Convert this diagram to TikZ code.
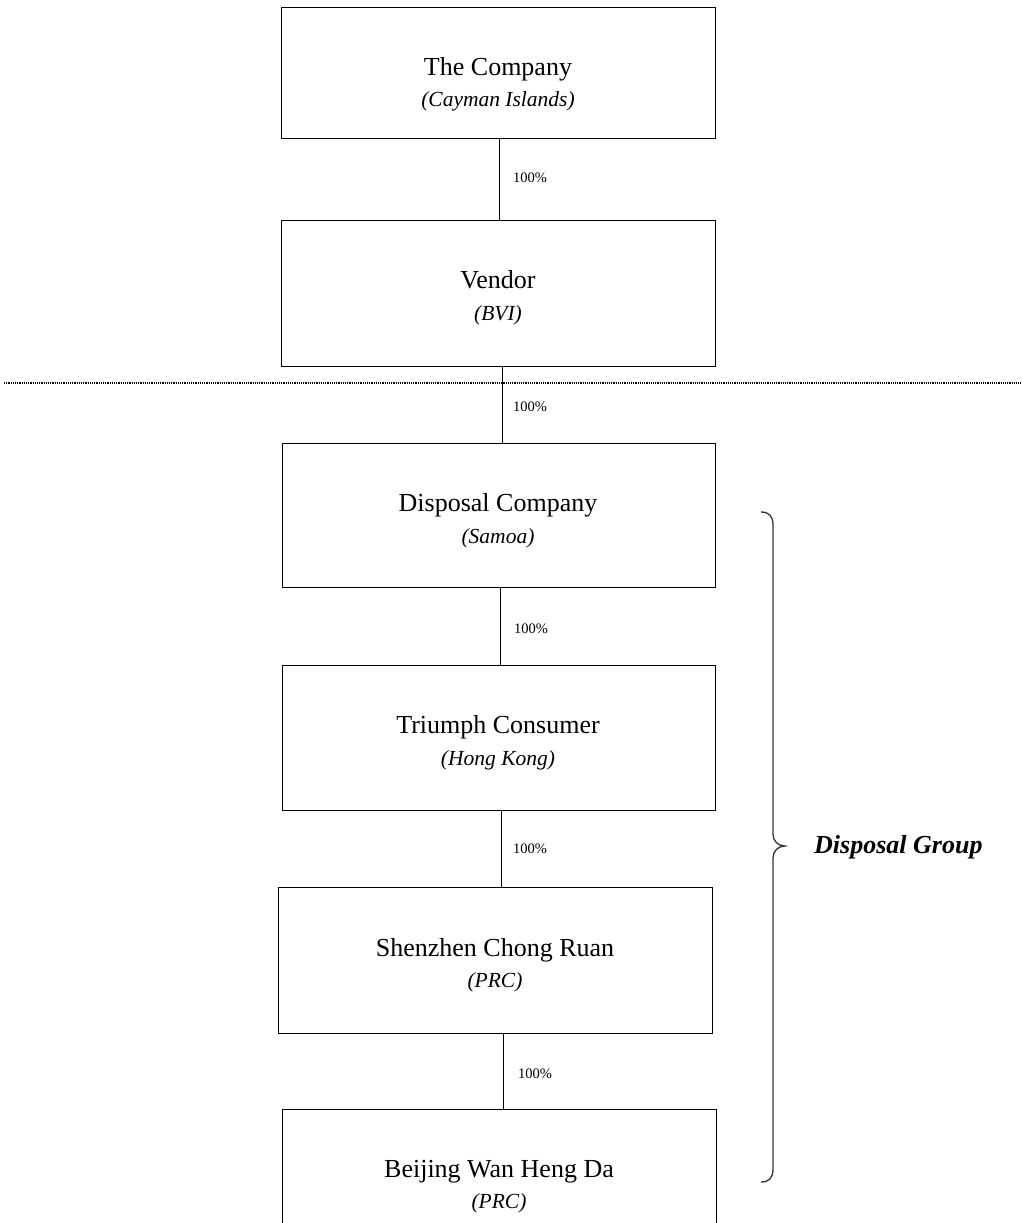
\documentclass[tikz,border=0pt]{standalone}
\usepackage{fontspec}
\setmainfont{Liberation Serif}
\begin{document}
\begin{tikzpicture}[x=1pt,y=-1pt,
  box/.style={draw=black,line width=1.3pt,rectangle,inner sep=0pt,anchor=north west},
  ttl/.style={anchor=base,inner sep=0pt,font=\fontsize{26}{30}\selectfont},
  sub/.style={anchor=base,inner sep=0pt,font=\fontsize{21.5}{26}\selectfont\itshape},
  pct/.style={anchor=base west,inner sep=0pt,font=\fontsize{14.5}{17}\selectfont},
  link/.style={draw=black,line width=1.3pt},
  grp/.style={anchor=base west,inner sep=0pt,font=\fontsize{26}{30}\selectfont\bfseries\itshape}]
\useasboundingbox (0,0) rectangle (1021,1223);
\clip (0,0) rectangle (1021,1223);
% boxes
\node[box,minimum width=434pt,minimum height=131pt] (b1) at (281,7) {};
\node[box,minimum width=434pt,minimum height=146pt] (b2) at (281,220) {};
\node[box,minimum width=433pt,minimum height=144pt] (b3) at (282,443) {};
\node[box,minimum width=433pt,minimum height=145pt] (b4) at (282,665) {};
\node[box,minimum width=434pt,minimum height=146pt] (b5) at (278,887) {};
\node[box,minimum width=434pt,minimum height=150pt] (b6) at (282,1109) {};
% texts
\node[ttl] (t1) at (498,75) {The Company};
\node[sub] (s1) at (498,106) {(Cayman Islands)};
\node[ttl] (t2) at (498,288) {Vendor};
\node[sub] (s2) at (498,320) {(BVI)};
\node[ttl] (t3) at (498,511) {Disposal Company};
\node[sub] (s3) at (498,543) {(Samoa)};
\node[ttl] (t4) at (498,733) {Triumph Consumer};
\node[sub] (s4) at (498,765) {(Hong Kong)};
\node[ttl] (t5) at (495,956) {Shenzhen Chong Ruan};
\node[sub] (s5) at (495,987) {(PRC)};
\node[ttl] (t6) at (499,1177) {Beijing Wan Heng Da};
\node[sub] (s6) at (499,1208) {(PRC)};
% connectors
\draw[link] ([xshift=1pt]b1.south) -- ([xshift=1pt]b1.south |- b2.north);
\draw[link] ([xshift=4pt]b2.south) -- ([xshift=4pt]b2.south |- b3.north);
\draw[link] ([xshift=1.5pt]b3.south) -- ([xshift=1.5pt]b3.south |- b4.north);
\draw[link] ([xshift=2.5pt]b4.south) -- ([xshift=2.5pt]b4.south |- b5.north);
\draw[link] ([xshift=8pt]b5.south) -- ([xshift=8pt]b5.south |- b6.north);
% percentages
\node[pct] (p1) at (513,182) {100\%};
\node[pct] (p2) at (513,411) {100\%};
\node[pct] (p3) at (514,633) {100\%};
\node[pct] (p4) at (513,853) {100\%};
\node[pct] (p5) at (518,1078) {100\%};
% dotted separator
\coordinate (dl) at (4,383);
\coordinate (dr) at (1021,383);
\draw[line width=1.4pt,dash pattern=on 1.2pt off 1pt] (dl) -- (dr);
% brace
\coordinate (bt) at (761,512);
\coordinate (bm) at (785,846);
\coordinate (bb) at (761,1182);
\draw[line width=1.3pt,black!80] (bt) .. controls (769,512) and (773,516) .. (773,525)
  -- (773,834) .. controls (773,841) and (778,846) .. (bm)
  .. controls (778,846) and (773,851) .. (773,858)
  -- (773,1169) .. controls (773,1178) and (769,1182) .. (bb);
\node[grp] (g) at (814,853) {Disposal Group};
\end{tikzpicture}
\end{document}
